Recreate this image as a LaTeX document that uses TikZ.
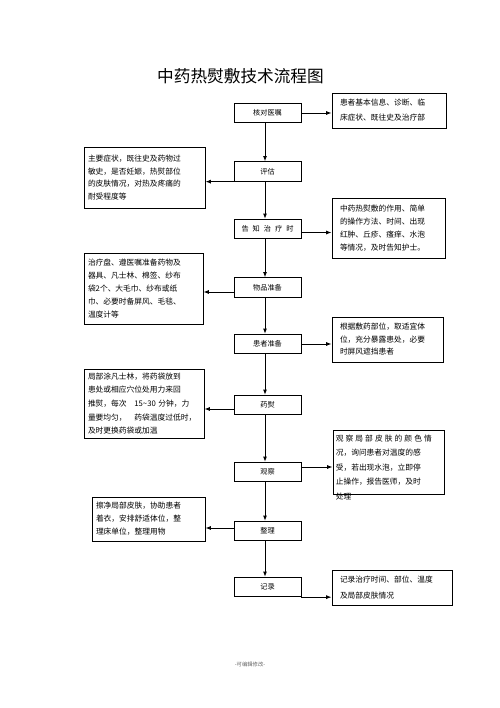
\documentclass[tikz,border=0pt]{standalone}
\usepackage{fontspec}
\setmainfont{Noto Sans CJK SC}
\usetikzlibrary{arrows.meta,calc}
\begin{document}
\begin{tikzpicture}[x=0.75pt,y=-0.75pt,
  box/.style={draw,line width=0.7pt,inner ysep=0pt},
  rside/.style={box,align=left,inner xsep=6pt},
  lside/.style={box,align=left,inner xsep=3pt},
  mid/.style={box,minimum width=50.25pt,minimum height=14.5pt,inner sep=0pt,font=\fontsize{5.4}{6}\selectfont},
  arr/.style={line width=0.7pt,-{Latex[length=4pt,width=3pt]}}]
\useasboundingbox (0,0) rectangle (500,708);

% title
\node[font=\fontsize{12.5}{14}\selectfont] (title) at (240.5,76) {中药热熨敷技术流程图};

% centre boxes
\node[mid] (c1) at (267.5,113)   {核对医嘱};
\node[mid] (c2) at (267.5,171.5) {评估};
\node[mid] (c3) at (267.5,229)   {\makebox[39pt][s]{告 知 治 疗 时}};
\node[mid] (c4) at (267.5,287.5) {物品准备};
\node[mid] (c5) at (267.5,344)   {患者准备};
\node[mid] (c6) at (267.5,405)   {药熨};
\node[mid] (c7) at (267.5,472)   {观察};
\node[mid] (c8) at (267.5,531)   {整理};
\node[mid] (c9) at (267.5,587)   {记录};

% side boxes
\node[rside,minimum width=85.5pt,text width=73.5pt,minimum height=26.25pt,font=\fontsize{5.8}{11.2}\selectfont] (r1) at (389,110.5)
  {患者基本信息、诊断、临\\床症状、既往史及治疗部};
\node[lside,minimum width=90.75pt,text width=84.75pt,minimum height=45.75pt,font=\fontsize{5.8}{9.5}\selectfont] (l1) at (144.5,177.5)
  {主要症状，既往史及药物过\\敏史，是否妊娠，热熨部位\\的皮肤情况，对热及疼痛的\\耐受程度等};
\node[rside,minimum width=84.75pt,text width=72.75pt,minimum height=45pt,font=\fontsize{5.8}{9.6}\selectfont] (r2) at (388.5,228)
  {中药热熨敷的作用、简单\\的操作方法、时间、出现\\红肿、丘疹、瘙痒、水泡\\等情况，及时告知护士。};
\node[lside,minimum width=89.25pt,text width=83.25pt,minimum height=53.25pt,font=\fontsize{5.8}{9.8}\selectfont] (l2) at (143.5,288.5)
  {治疗盘、遵医嘱准备药物及\\器具、凡士林、棉签、纱布\\袋2个、大毛巾、纱布或纸\\巾、必要时备屏风、毛毯、\\温度计等};
\node[rside,minimum width=83.25pt,text width=71.25pt,minimum height=33.75pt,font=\fontsize{5.8}{9.4}\selectfont] (r3) at (387.5,339.5)
  {根据敷药部位，取适宜体\\位，充分暴露患处，必要\\时屏风遮挡患者};
\node[lside,minimum width=90pt,text width=84pt,minimum height=51.75pt,font=\fontsize{5.8}{10.2}\selectfont] (l3) at (144,403.5)
  {局部涂凡士林，将药袋放到\\患处或相应穴位处用力来回\\推熨，每次\quad 15\string~30 分钟，力\\量要均匀，\quad 药袋温度过低时，\\及时更换药袋或加温};
\node[box,minimum width=83.25pt,minimum height=48pt,inner sep=0pt] (r4) at (388.5,462) {};
\node[anchor=north west,align=left,inner sep=0pt,font=\fontsize{5.8}{10.9}\selectfont] (r4t) at ($(r4.north west)+(3,5)$)
  {\makebox[72pt][s]{观 察 局 部 皮 肤 的 颜 色 情}\\况，询问患者对温度的感\\受，若出现水泡，立即停\\止操作，报告医师，及时\\处理};
\node[lside,minimum width=84.75pt,text width=78.75pt,minimum height=33pt,font=\fontsize{5.8}{9.8}\selectfont] (l4) at (148.5,519)
  {擦净局部皮肤，协助患者\\着衣，安排舒适体位，整\\理床单位，整理用物};
\node[rside,minimum width=90pt,text width=78pt,minimum height=26.25pt,font=\fontsize{5.8}{12}\selectfont] (r5) at (392,587.5)
  {记录治疗时间、部位、温度\\及局部皮肤情况};

% vertical arrows
\coordinate (ax) at (265,0);
\foreach \a/\b in {c1/c2,c2/c3,c3/c4,c4/c5,c5/c6,c6/c7,c7/c8,c8/c9}
  \draw[arr] (\a.south -| ax) -- (\b.north -| ax);

% side arrows
\draw[arr] (c1.east) -- (r1.west |- c1.east);
\draw[arr] (c2.south west) -- (l1.east |- c2.south west);
\draw[arr] ($(c3.east)+(0,3.5)$) -- (r2.west |- {$(c3.east)+(0,3.5)$});
\draw[arr] ($(c4.west)+(0,4.5)$) -- (l2.east |- {$(c4.west)+(0,4.5)$});
\draw[arr] (c5.east) -- (r3.west |- c5.east);
\draw[arr] ($(c6.west)+(0,4)$) -- (l3.east |- {$(c6.west)+(0,4)$});
\draw[arr] ($(c7.east)+(0,-5)$) -- (r4.west |- {$(c7.east)+(0,-5)$});
\draw[arr] ($(c8.west)+(0,-3)$) -- (l4.east |- {$(c8.west)+(0,-3)$});
\draw[arr] (c9.south east) -- (r5.west |- c9.south east);

% footer
\node[font=\fontsize{4}{5}\selectfont,text=black!60] (foot) at (250,664) {-可编辑修改-};
\end{tikzpicture}
\end{document}
